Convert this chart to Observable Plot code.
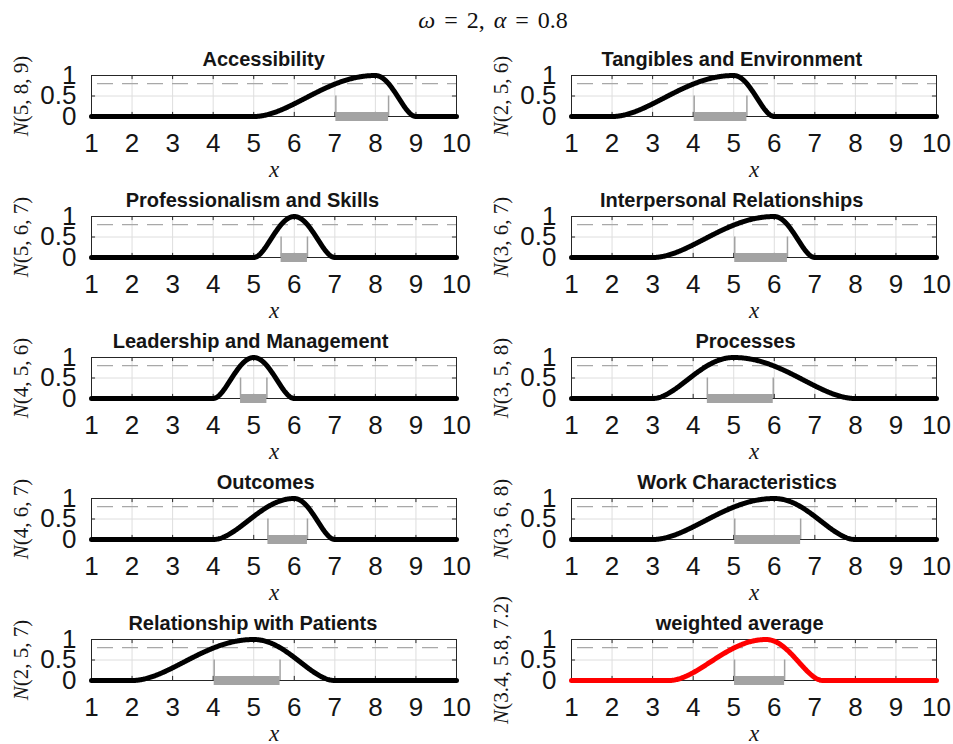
<!DOCTYPE html>
<html><head><meta charset="utf-8">
<script src="https://cdn.jsdelivr.net/npm/d3@7"></script>
<script src="https://cdn.jsdelivr.net/npm/@observablehq/plot@0.6"></script>
<style>
body{margin:0;background:#fff;}
#fig{position:relative;width:953px;height:744px;background:#fff;font-family:"Liberation Sans",Arial,sans-serif;overflow:hidden;}
#title{position:absolute;left:0;width:986px;top:7px;line-height:26px;text-align:center;font-family:"Liberation Serif",serif;font-size:24px;word-spacing:3px;color:#111;}
.panel{position:absolute;}
.panel svg{overflow:visible;}
</style></head><body>
<div id="fig"><div id="title"><i>ω</i> = 2, <i>α</i> = 0.8</div></div>
<script>
// ---- data (row-major: left, right) ----
const titles = ["Accessibility", "Tangibles and Environment",
  "Professionalism and Skills", "Interpersonal Relationships",
  "Leadership and Management", "Processes",
  "Outcomes", "Work Characteristics",
  "Relationship with Patients", "weighted average"];
const lows  = [5, 2, 5, 3, 4, 3, 4, 3, 2, 3.4];
const modes = [8, 5, 6, 6, 5, 5, 6, 6, 5, 5.8];
const highs = [9, 6, 7, 7, 6, 8, 7, 8, 7, 7.2];
const curveColors = ["#000","#000","#000","#000","#000","#000","#000","#000","#000","#ff0000"];
const omega = 2;
const alpha = 0.8;
const xTicks = [1, 2, 3, 4, 5, 6, 7, 8, 9, 10];
const xTickLabels = ["1","2","3","4","5","6","7","8","9","10"];
const yTicks = [0, 0.5, 1];
const yTickLabels = ["0", "0.5", "1"];

function memb(x, a, b, c) {
  if (x <= a || x >= c) return 0;
  const t = x < b ? (b - x) / (b - a) : (x - b) / (c - b);
  return Math.pow(1 - t * t, omega);
}
const kcut = Math.sqrt(1 - Math.pow(alpha, 1 / omega));

const canvas = document.createElement("canvas");
const ctx = canvas.getContext("2d");
ctx.font = "bold 20px 'Liberation Sans'";

const fig = document.getElementById("fig");
const fontSans = "Liberation Sans, Arial, sans-serif";
const fontSerif = "Liberation Serif, Times New Roman, serif";
const ink = "#151515";

titles.forEach((title, i) => {
  const row = Math.floor(i / 2), col = i % 2;
  const a = lows[i], b = modes[i], c = highs[i];
  const width = col ? 473 : 476;
  const marginRight = col ? 17 : 20;
  const pts = d3.range(0, 451).map(j => { const x = 1 + j * 0.02; return {x, y: memb(x, a, b, c)}; });
  const cut = [{lo: b - (b - a) * kcut, hi: b + (c - b) * kcut}];
  const label = `N(${a}, ${b}, ${c})`;
  const tw = ctx.measureText(title).width;

  const svg = Plot.plot({
    width, height: 141,
    marginTop: 35, marginBottom: 65, marginLeft: 91, marginRight,
    x: {domain: [1, 10]},
    y: {domain: [0, 1]},
    style: {background: "transparent", overflow: "visible", fontFamily: fontSans, color: ink},
    marks: [
      Plot.ruleX(xTicks, {stroke: "#dedede", strokeWidth: 1}),
      Plot.ruleY([0.5], {stroke: "#dedede", strokeWidth: 1}),
      Plot.ruleY([alpha], {stroke: "#a8a8a8", strokeWidth: 1.3, strokeDasharray: "16,9", strokeDashoffset: -6}),
      Plot.ruleX(cut.flatMap(d => [d.lo, d.hi]), {y1: 0, y2: 0.5, stroke: "#a3a3a3", strokeWidth: 1.5}),
      Plot.frame({stroke: "#262626", strokeWidth: 1}),
      Plot.ruleX(xTicks, {y1: 0, y2: 0.1, stroke: "#262626"}),
      Plot.ruleX(xTicks, {y1: 0.9, y2: 1, stroke: "#262626"}),
      Plot.ruleY(yTicks, {x1: 1, x2: 1.1, stroke: "#262626"}),
      Plot.ruleY(yTicks, {x1: 9.9, x2: 10, stroke: "#262626"}),
      Plot.ruleY(cut, {y: 0, x1: "lo", x2: "hi", stroke: "#a3a3a3", strokeWidth: 9}),
      Plot.line(pts, {x: "x", y: "y", stroke: curveColors[i], strokeWidth: 5, strokeLinecap: "round", strokeLinejoin: "round"}),
      Plot.axisX({ticks: xTicks, tickFormat: d => xTickLabels[xTicks.indexOf(d)], tickSize: 0, tickPadding: 17, fontSize: 26, label: null, fill: ink}),
      Plot.axisY({ticks: yTicks, tickFormat: d => yTickLabels[yTicks.indexOf(d)], tickSize: 0, tickPadding: 15, fontSize: 26, label: null, fill: ink}),
      Plot.text([title], {text: d => d, frameAnchor: "top", dy: -9.5, dx: -0.085 * tw, lineAnchor: "bottom", fontSize: 20, fontWeight: "bold", fill: ink}),
      Plot.text(["x"], {text: d => d, frameAnchor: "bottom", dy: 60, lineAnchor: "bottom", fontSize: 23, fontStyle: "italic", fontFamily: fontSerif, fill: ink}),
      Plot.text([label], {text: d => d, frameAnchor: "left", dx: -70, rotate: -90, textAnchor: "middle", lineAnchor: "middle", fontSize: 21, fontFamily: fontSerif, fill: ink})
    ]
  });
  d3.select(svg).selectAll("text").filter(function() { return this.textContent.startsWith("N("); })
    .each(function() {
      const rest = this.textContent.slice(1);
      this.textContent = "";
      d3.select(this).append("tspan").attr("font-style", "italic").text("N");
      d3.select(this).append("tspan").text(rest);
    });
  const div = document.createElement("div");
  div.className = "panel";
  div.style.left = (col ? 480 : 0) + "px";
  div.style.top = (40 + row * 141) + "px";
  div.style.width = width + "px";
  div.appendChild(svg);
  fig.appendChild(div);
});
</script>
</body></html>
